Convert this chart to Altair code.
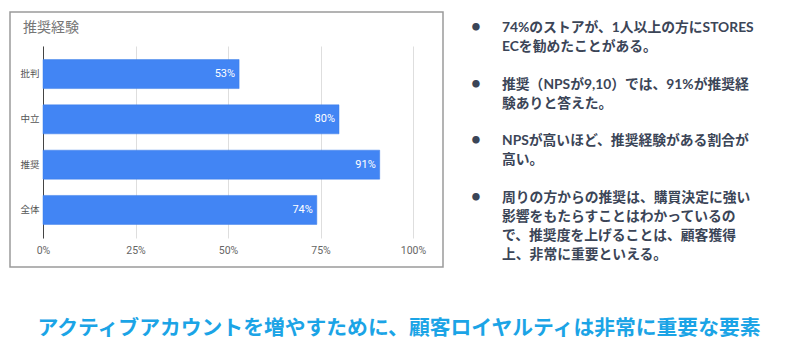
import altair as alt
import pandas as pd

# ---- data ----
categories = ["批判", "中立", "推奨", "全体"]
values = [53, 80, 91, 74]
x_ticks = [0, 25, 50, 75, 100]
chart_title = "推奨経験"
bullet_blocks = [
    ["74%のストアが、1人以上の方にSTORES",
     "ECを勧めたことがある。"],
    ["推奨（NPSが9,10）では、91%が推奨経",
     "験ありと答えた。"],
    ["NPSが高いほど、推奨経験がある割合が",
     "高い。"],
    ["周りの方からの推奨は、購買決定に強い",
     "影響をもたらすことはわかっているの",
     "で、推奨度を上げることは、顧客獲得",
     "上、非常に重要といえる。"],
]
bullet_mark = "•"
headline = "アクティブアカウントを増やすために、顧客ロイヤルティは非常に重要な要素"

df = pd.DataFrame({"cat": categories, "val": values})
df["label"] = [f"{v}%" for v in values]

JP = "Noto Sans CJK JP"
TXT = "Lato, Noto Sans CJK JP"

one = pd.DataFrame({"k": [0]})

frame = alt.Chart(one).mark_rect(
    fillOpacity=0, stroke="#9a9a9a", strokeWidth=1.5
).encode(
    x=alt.value(-33), x2=alt.value(400), y=alt.value(-34), y2=alt.value(221)
)

title_txt = alt.Chart(one).mark_text(
    align="left", baseline="middle", font=JP, fontSize=14, color="#757575"
).encode(x=alt.value(-20), y=alt.value(-18), text=alt.value(chart_title))

ycat = alt.Y(
    "cat:N", sort=categories, title=None,
    scale=alt.Scale(paddingInner=0.36, paddingOuter=0.3),
    axis=alt.Axis(domainColor="#444", domainWidth=1, ticks=False, labelPadding=4,
                  labelFont=JP, labelFontSize=9.5, labelColor="#555", grid=False),
)
xval = alt.X(
    "val:Q", title=None, scale=alt.Scale(domain=[0, 100]),
    axis=alt.Axis(values=x_ticks, labelExpr="datum.value + '%'", domain=False, ticks=False,
                  gridColor="#dedede", gridWidth=1, labelPadding=7, labelFlush=False,
                  labelFont="Roboto", labelFontSize=10.5, labelColor="#666"),
)

bars = alt.Chart(df).mark_bar(color="#4285f4", stroke="#3b7de8", strokeWidth=0.5).encode(
    x=xval, y=ycat
)
bar_labels = alt.Chart(df).mark_text(
    align="right", baseline="middle", dx=-4, color="white", font="Roboto", fontSize=11
).encode(x="val:Q", y=alt.Y("cat:N", sort=categories), text="label:N")

layers = [frame, title_txt, bars, bar_labels]
LINE_H = 18.9
top0 = -25
for i, block in enumerate(bullet_blocks):
    y0 = top0 + i * 3 * LINE_H
    layers.append(alt.Chart(one).mark_text(
        align="left", baseline="top", lineHeight=LINE_H,
        font=TXT, fontSize=13.8, fontWeight="bold", color="#3b4557"
    ).encode(x=alt.value(459), y=alt.value(y0), text=alt.value(block)))
    layers.append(alt.Chart(one).mark_text(
        align="center", baseline="top",
        font=TXT, fontSize=17, fontWeight="bold", color="#3b4557"
    ).encode(x=alt.value(433), y=alt.value(y0 - 2), text=alt.value(bullet_mark)))

head = alt.Chart(one).mark_text(
    align="center", baseline="middle", font=JP, fontSize=20.8, fontWeight="bold", color="#1ba4e6"
).encode(x=alt.value(356), y=alt.value(283), text=alt.value(headline))
layers.append(head)

chart = alt.layer(*layers).properties(
    width=370, height=192,
    autosize=alt.AutoSizeParams(type="none"),
    padding={"left": 35, "top": 38, "right": 379, "bottom": 114},
    background="white",
).configure_view(stroke=None)

chart.save("out.html", embed_options={"renderer": "svg", "actions": False})
